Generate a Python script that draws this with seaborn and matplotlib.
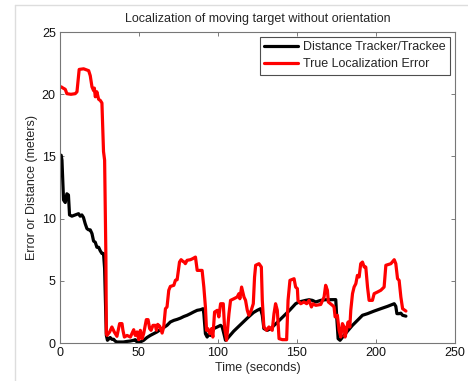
import pandas as pd
import numpy as np
import matplotlib
matplotlib.use("Agg")
import matplotlib.pyplot as plt
from matplotlib.lines import Line2D
import seaborn as sns

# Distance Tracker/Trackee (black)
dist_t = [0.8, 1.3, 2.3, 3.4, 4.4, 5.4, 6.1, 7.6, 9.7, 11.8, 12.8, 13.9, 14.9, 16.0,
          17.1, 18.2, 19.2, 20.3, 21.3, 22.4, 23.4, 24.5, 25.6, 26.6, 27.6, 28.3,
          29.1, 29.4, 30.1, 31.8, 32.9, 34.0, 35.0, 36.1, 38.2, 40.2, 42.5, 44.6,
          46.7, 47.7, 48.8, 50.9, 53.0, 55.1, 57.2, 59.3, 61.4, 63.5, 65.7, 67.8,
          69.9, 72.1, 74.2, 76.3, 78.4, 80.5, 82.6, 84.7, 86.9, 89.0, 90.6, 91.1,
          92.1, 93.2, 94.3, 95.3, 96.4, 97.4, 99.6, 101.7, 102.7, 103.8, 104.8,
          105.9, 110.0, 114.5, 119.0, 122.5, 124.9, 127.0, 128.1, 129.1, 131.3,
          133.4, 137.5, 141.5, 145.5, 149.2, 151.3, 155.6, 157.7, 159.8, 161.9,
          165.1, 168.2, 174.6, 175.2, 176.1, 177.3, 181.0, 185.0, 189.4, 191.5,
          194.7, 198.9, 203.1, 207.4, 211.6, 212.6, 213.3, 214.7, 215.8, 216.9, 219.0]
dist_v = [15.1, 14.7, 11.5, 11.3, 12.0, 11.9, 10.3, 10.2, 10.3, 10.4, 10.2, 10.3, 10.1, 9.6,
          9.2, 9.1, 9.1, 8.8, 8.2, 8.1, 7.7, 7.7, 7.4, 7.2, 7.2, 6.0,
          2.0, 0.61, 0.22, 0.44, 0.3, 0.3, 0.15, 0.08, 0.08, 0.08, 0.13, 0.16,
          0.22, 0.27, 0.08, 0.08, 0.22, 0.44, 0.61, 0.75, 0.89, 1.07, 1.24, 1.42,
          1.69, 1.82, 1.90, 2.0, 2.13, 2.23, 2.36, 2.50, 2.63, 2.68, 2.76, 2.36,
          0.75, 0.48, 0.75, 0.61, 0.89, 1.16, 1.29, 1.42, 1.29, 0.75, 0.22,
          0.35, 0.95, 1.5, 2.05, 2.45, 2.63, 2.76, 2.23, 1.16, 1.02,
          1.16, 1.65, 2.15, 2.65, 3.16, 3.30, 3.43, 3.48, 3.43, 3.30,
          3.43, 3.48, 3.49, 2.10, 0.35, 0.22, 0.8, 1.4, 1.96, 2.23,
          2.36, 2.57, 2.76, 2.95, 3.16, 2.95, 2.36, 2.36, 2.40, 2.23, 2.16]

# True Localization Error (red)
err_t = [0.8, 2.0, 3.4, 4.4, 7.0, 9.7, 10.8, 12.2, 15.0, 18.2, 19.2, 20.3, 21.3, 21.8,
         22.4, 23.4, 24.5, 25.6, 26.6, 27.6, 28.3, 29.1, 29.4, 29.8, 31.5, 32.9,
         34.4, 36.1, 37.8, 39.3, 39.9, 40.8, 42.5, 44.6, 46.7, 47.7, 48.8, 49.9,
         50.9, 52.0, 53.0, 54.7, 55.8, 56.8, 57.7, 58.9, 60.4, 61.1, 61.9, 63.2,
         64.7, 65.7, 66.8, 67.8, 68.9, 69.9, 72.1, 73.1, 74.2, 75.7, 76.7, 78.0,
         78.8, 79.4, 80.5, 82.6, 84.0, 85.8, 86.9, 90.0, 91.1, 92.1, 92.8, 93.6,
         94.9, 96.0, 96.8, 97.9, 99.6, 100.6, 101.7, 103.4, 104.2, 105.5, 107.0,
         108.0, 110.1, 112.2, 113.3, 113.9, 115.0, 116.5, 117.5, 118.6, 119.6,
         121.1, 122.4, 123.2, 123.9, 126.0, 127.5, 128.1, 129.1, 130.8, 132.3,
         134.4, 135.5, 136.5, 137.6, 138.7, 140.8, 143.5, 144.4, 145.6, 148.2,
         149.2, 150.3, 150.7, 152.4, 154.5, 156.2, 157.7, 159.2, 160.2, 161.9,
         165.1, 167.2, 168.2, 169.3, 169.9, 172.5, 173.5, 174.2, 175.6, 176.7,
         177.8, 178.8, 179.9, 180.5, 181.4, 182.4, 183.5, 184.1, 185.2, 186.2,
         187.3, 188.3, 189.4, 190.4, 191.5, 192.6, 193.6, 194.7, 195.7, 197.8,
         198.9, 201.0, 203.1, 205.2, 206.3, 209.5, 211.6, 212.6, 213.7, 214.7,
         215.8, 216.9, 219.0]
err_v = [20.6, 20.5, 20.4, 20.05, 20.0, 20.05, 20.2, 22.0, 22.05, 21.9, 21.5, 20.6, 20.3, 20.5,
         19.8, 20.2, 19.6, 19.5, 19.3, 15.4, 14.7, 7.0, 0.75, 0.61, 0.89, 1.29,
         0.89, 0.54, 1.56, 1.56, 1.02, 0.48, 0.61, 0.48, 1.07, 0.61, 0.89, 0.27,
         1.02, 0.35, 0.75, 1.88, 1.88, 1.16, 1.02, 1.42, 1.42, 1.02, 1.50, 1.34,
         0.80, 1.29, 2.76, 2.90, 4.24, 4.55, 4.64, 5.04, 5.09, 6.51, 6.70, 6.55,
         6.51, 6.38, 6.65, 6.70, 6.78, 6.91, 5.84, 5.84, 4.5, 2.9, 1.02, 1.16,
         0.75, 1.16, 0.48, 2.49, 2.63, 2.10, 3.16, 3.16, 1.29, 0.22, 2.36,
         3.43, 3.56, 3.70, 3.97, 3.56, 4.50, 3.70, 3.43, 2.63, 2.23,
         2.63, 3.16, 5.3, 6.25, 6.38, 6.11, 3.43, 1.29, 1.02, 1.29,
         1.02, 2.36, 3.16, 2.63, 0.35, 0.27, 0.27, 3.43, 5.04, 5.17,
         4.50, 4.37, 3.43, 3.16, 3.30, 3.16, 3.43, 2.90, 3.16, 3.03,
         3.10, 3.70, 4.64, 4.24, 3.30, 3.03, 2.90, 2.10, 2.23, 1.02,
         0.48, 1.56, 1.29, 0.48, 1.02, 1.69, 1.29, 2.63, 3.97, 4.50,
         4.77, 5.44, 5.31, 6.38, 6.51, 6.11, 6.11, 4.50, 3.43, 3.43,
         3.97, 4.10, 4.24, 4.50, 6.25, 6.38, 6.70, 6.38, 5.17, 5.04,
         3.70, 2.76, 2.57]

labels = ["Distance Tracker/Trackee", "True Localization Error"]
colors = {labels[0]: "black", labels[1]: "red"}

df = pd.concat([
    pd.DataFrame({"t": dist_t, "v": dist_v, "series": labels[0]}),
    pd.DataFrame({"t": err_t, "v": err_v, "series": labels[1]}),
], ignore_index=True)

sns.set_style("ticks")
plt.rcParams['font.family'] = ['Liberation Sans', 'DejaVu Sans']
fs = 9

fig = plt.figure(figsize=(4.68, 3.81), dpi=100)
ax = fig.add_axes([0.128, 0.0997, 0.844, 0.816])

sns.lineplot(data=df, x="t", y="v", hue="series", palette=colors,
             estimator=None, sort=False, linewidth=2.3, ax=ax)

ax.set_xlim(0, 250)
ax.set_ylim(0, 25)
ax.set_xticks([0, 50, 100, 150, 200, 250])
ax.set_yticks([0, 5, 10, 15, 20, 25])
ax.tick_params(direction="in", top=True, right=True, labelsize=fs,
               length=3, width=0.6, colors="#666666", labelcolor="#111111", pad=3)
for s in ax.spines.values():
    s.set_linewidth(0.8)
    s.set_color("#777777")

ax.set_xlabel("Time (seconds)", fontsize=fs, labelpad=2)
ax.set_ylabel("Error or Distance (meters)", fontsize=fs, labelpad=3)
ax.set_title("Localization of moving target without orientation", fontsize=fs, pad=7)

leg = ax.legend(loc="upper right", fontsize=fs, frameon=True, fancybox=False,
                handlelength=2.7, borderaxespad=0.4, borderpad=0.35,
                labelspacing=0.4, handletextpad=0.4)
leg.get_frame().set_edgecolor("#222222")
leg.get_frame().set_linewidth(0.8)
for h in leg.get_lines():
    h.set_linewidth(2.3)

# light screenshot frame
fig.add_artist(Line2D([15 / 468, 15 / 468], [0, 1 - 5 / 381], color="#dddddd", lw=1))
fig.add_artist(Line2D([15 / 468, 1], [1 - 5 / 381, 1 - 5 / 381], color="#dddddd", lw=1))

fig.savefig("out.png", dpi=100)
